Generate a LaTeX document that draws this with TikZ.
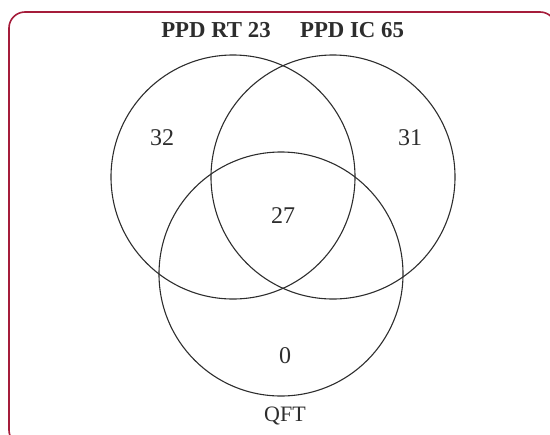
\documentclass[tikz,border=0pt]{standalone}
\usepackage{fontspec}
\setmainfont{Liberation Serif}
\usepackage{tikz}

\definecolor{framered}{RGB}{165,28,58}
\definecolor{setgray}{RGB}{45,45,45}

\begin{document}
\begin{tikzpicture}[x=0.5pt,y=-0.5pt]
	\tikzstyle{set} = [circle,draw=setgray,line width=0.55pt,minimum size=122pt,inner sep=0pt]
	\tikzstyle{count} = [font=\fontsize{12}{14}\selectfont,text=setgray]
	\tikzstyle{title} = [font=\fontsize{11.4}{13}\selectfont\bfseries,text=setgray]

	\useasboundingbox (0,0) rectangle (550,434);
	\draw[framered,line width=0.8pt,rounded corners=8pt] (9,12) rectangle (556,446);

	\node[set] (rt) at (233,177) {};
	\node[set] (ic) at (333,177) {};
	\node[set] (qft) at (281,274) {};

	\node[title] (rtname) at (216,30) {PPD RT 23};
	\node[title] (icname) at (352,30) {PPD IC 65};
	\node[count,font=\fontsize{11}{13}\selectfont] (qftname) at (285,416) {QFT};

	\node[count] (onlyrt) at (162,138) {32};
	\node[count] (onlyic) at (410,138) {31};
	\node[count] (all) at (283,216) {27};
	\node[count] (onlyqft) at (285,356) {0};
\end{tikzpicture}
\end{document}
